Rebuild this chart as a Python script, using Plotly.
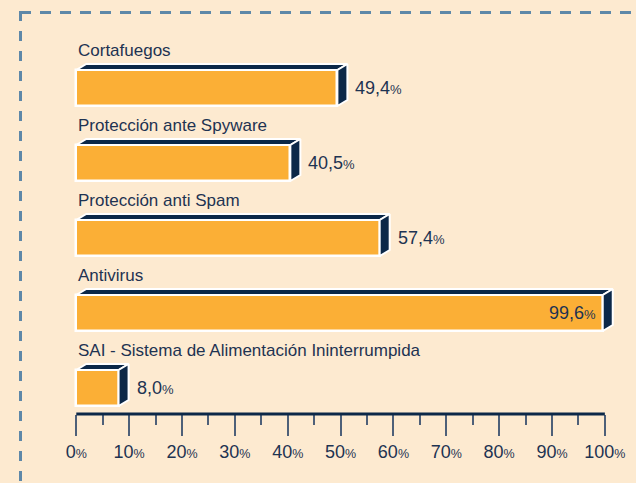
import plotly.graph_objects as go

# ---- data ----
categories = ["Cortafuegos", "Protección ante Spyware", "Protección anti Spam",
              "Antivirus", "SAI - Sistema de Alimentación Ininterrumpida"]
values = [49.4, 40.5, 57.4, 99.6, 8.0]
value_labels = ["49,4", "40,5", "57,4", "99,6", "8,0"]
tick_values = [0, 10, 20, 30, 40, 50, 60, 70, 80, 90, 100]
tick_labels = [str(t) for t in tick_values]

# ---- style ----
BG = "#FDEAD0"
ORANGE = "#FBAF36"
NAVY = "#0C2848"
TEXT = "#1E3352"
TICK = "#4E6079"
BORDER = "#5E88A8"
FONT = "Liberation Sans, Arial, sans-serif"

W, H = 636, 483
ML, MR, MT, MB = 71, 10, 0, 69
XMIN, XMAX = -1, 104
plot_w = W - ML - MR
plot_h = H - MT - MB
px_per_x = plot_w / (XMAX - XMIN)
ROW_PX = 75.0
FIRST_CENTER_PX = 88.0
YTOP = -FIRST_CENTER_PX / ROW_PX
YBOT = YTOP + plot_h / ROW_PX

BAR_W = 36 / ROW_PX
DX = 10 / px_per_x      # 3D depth in x units
DY = 6 / ROW_PX         # 3D depth in y units (upwards)

ypos = list(range(len(categories)))

fig = go.Figure()

# front faces
fig.add_trace(go.Bar(
    x=values, y=ypos, orientation="h", width=BAR_W, base=0,
    marker=dict(color=ORANGE, line=dict(color="white", width=2.5)),
    hoverinfo="skip", showlegend=False,
))

# top and side faces
for yi, v in zip(ypos, values):
    yt = yi - BAR_W / 2
    yb = yi + BAR_W / 2
    top_x = [0, DX, v + DX, v, 0]
    top_y = [yt, yt - DY, yt - DY, yt, yt]
    side_x = [v, v + DX, v + DX, v, v]
    side_y = [yt, yt - DY, yb - DY, yb, yt]
    for xs, ys in ((top_x, top_y), (side_x, side_y)):
        fig.add_trace(go.Scatter(
            x=xs, y=ys, mode="lines", fill="toself", fillcolor=NAVY,
            line=dict(color="white", width=2), hoverinfo="skip",
            showlegend=False,
        ))

annotations = []
for yi, cat, v, lab in zip(ypos, categories, values, value_labels):
    annotations.append(dict(
        x=0, y=yi - 0.505, xref="x", yref="y", text=cat, showarrow=False,
        xanchor="left", yanchor="middle", xshift=0,
        font=dict(family=FONT, size=17, color=TEXT),
    ))
    txt = f"{lab}<span style='font-size:13px'>%</span>"
    if v > 90:
        annotations.append(dict(
            x=v, y=yi, xref="x", yref="y", text=txt, showarrow=False,
            xanchor="right", yanchor="middle", xshift=-5,
            font=dict(family=FONT, size=18, color=TEXT),
        ))
    else:
        annotations.append(dict(
            x=v + DX, y=yi, xref="x", yref="y", text=txt, showarrow=False,
            xanchor="left", yanchor="middle", xshift=6,
            font=dict(family=FONT, size=18, color=TEXT),
        ))

# border (dashed) positions in paper coordinates
def px_to_paper_x(px):
    return (px - ML) / plot_w

def px_to_paper_y(py):
    return (H - MB - py) / plot_h

shapes = [
    dict(type="line", xref="paper", yref="paper",
         x0=px_to_paper_x(20), x1=px_to_paper_x(650),
         y0=px_to_paper_y(12.5), y1=px_to_paper_y(12.5),
         line=dict(color=BORDER, width=3, dash="11px,9px")),
    dict(type="line", xref="paper", yref="paper",
         x0=px_to_paper_x(20.5), x1=px_to_paper_x(20.5),
         y0=px_to_paper_y(11), y1=px_to_paper_y(500),
         line=dict(color=BORDER, width=3, dash="10px,10px")),
    # axis baseline from 0% to 100%
    dict(type="line", xref="x", yref="paper",
         x0=tick_values[0], x1=tick_values[-1], y0=0, y1=0,
         line=dict(color=NAVY, width=3)),
]

fig.update_layout(
    width=W, height=H, autosize=False,
    margin=dict(l=ML, r=MR, t=MT, b=MB, pad=0),
    paper_bgcolor=BG, plot_bgcolor=BG,
    showlegend=False, bargap=0,
    annotations=annotations, shapes=shapes,
    xaxis=dict(
        range=[XMIN, XMAX], showgrid=False, zeroline=False, showline=False,
        tickmode="array", tickvals=tick_values,
        ticktext=[f"{t}<span style='font-size:12.5px'>%</span>" for t in tick_labels],
        ticks="outside", ticklen=21, tickwidth=2, tickcolor=TICK,
        tickfont=dict(family=FONT, size=18, color=TEXT),
        minor=dict(dtick=5, tick0=0, ticks="outside", ticklen=10, tickwidth=2,
                   tickcolor=TICK, showgrid=False),
        fixedrange=True,
    ),
    yaxis=dict(range=[YBOT, YTOP], visible=False, fixedrange=True),
)

fig.write_html(
    "out.html",
    config={"displayModeBar": False},
    post_script="document.body.style.margin='0px';document.body.style.overflow='hidden';"
                "document.documentElement.style.background='" + BG + "';",
)
